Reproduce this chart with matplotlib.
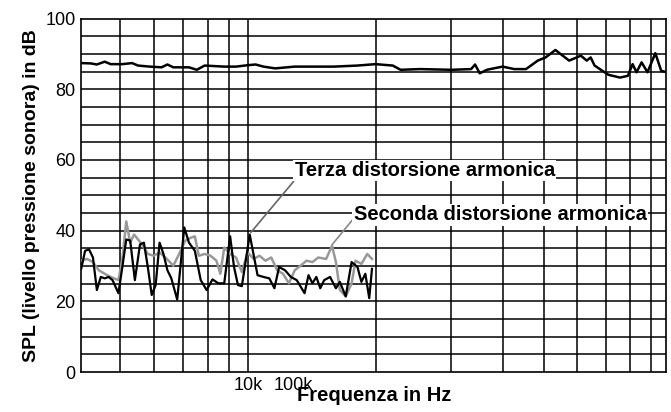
import matplotlib
matplotlib.use("Agg")
import matplotlib.pyplot as plt

plt.rcParams["font.family"] = ["Liberation Sans", "DejaVu Sans"]

# x positions are in a linear "chart units" scale (grid of the original print)
grid_x = [155, 242, 315, 378, 432, 480, 806, 998, 1132, 1236, 1320, 1393, 1456, 1510]

spl_x = [55, 80, 95, 115, 130, 160, 185, 200, 230, 260, 275, 290, 330, 350, 370, 420, 450,
         480, 500, 520, 550, 600, 700, 760, 806, 850, 870, 920, 1000, 1050, 1060, 1072, 1090,
         1130, 1160, 1190, 1220, 1240, 1265, 1300, 1330, 1345, 1355, 1365, 1400, 1430, 1450,
         1462, 1472, 1485, 1500, 1520, 1535, 1550, 1560]
spl_y = [87.4, 87.3, 87.0, 87.8, 87.1, 87.1, 87.4, 86.7, 86.4, 86.2, 87.0, 86.2, 86.2, 85.5,
         86.7, 86.4, 86.4, 86.8, 87.0, 86.4, 85.9, 86.4, 86.4, 86.7, 87.1, 86.7, 85.5, 85.7,
         85.5, 85.7, 87.0, 84.5, 85.5, 86.4, 85.7, 85.7, 88.1, 89.0, 91.1, 88.1, 89.5, 88.1,
         89.0, 86.7, 84.1, 83.3, 83.8, 87.1, 84.8, 87.6, 84.8, 90.2, 85.2, 84.8, 82.4]

h3_x = [55, 65, 75, 85, 95, 105, 115, 125, 135, 150, 160, 170, 180, 192, 205, 215, 225, 235,
        245, 255, 265, 275, 285, 300, 318, 330, 345, 360, 375, 390, 405, 420, 435, 445, 455,
        465, 485, 505, 520, 535, 548, 560, 575, 590, 605, 625, 635, 645, 655, 665, 675, 690,
        705, 715, 730, 745, 760, 770, 780, 790, 797]
h3_y = [29.2, 34.3, 34.7, 32.4, 23.2, 26.9, 26.5, 26.9, 26.0, 22.3, 29.7, 37.5, 37.2, 26.0,
        36.1, 36.6, 29.7, 21.8, 24.6, 36.6, 33.4, 28.8, 26.5, 20.5, 40.9, 36.6, 34.3, 26.0,
        23.2, 26.2, 25.1, 25.1, 38.4, 29.7, 24.6, 24.3, 38.9, 27.4, 26.9, 26.5, 23.7, 29.7,
        28.8, 26.9, 26.0, 22.3, 27.4, 25.1, 26.9, 23.7, 26.0, 26.9, 23.7, 25.5, 21.4, 31.1,
        29.7, 25.5, 27.8, 20.9, 29.2]

h2_x = [55, 70, 85, 100, 115, 130, 150, 160, 170, 180, 190, 200, 210, 225, 240, 255, 270,
        290, 305, 320, 335, 345, 355, 370, 385, 400, 410, 420, 435, 450, 465, 480, 495, 510,
        525, 540, 555, 570, 585, 600, 615, 630, 645, 660, 680, 695, 705, 715, 730, 745, 755,
        770, 785, 797]
h2_y = [31.5, 32.0, 31.1, 28.8, 27.8, 26.9, 26.0, 32.0, 42.6, 36.6, 38.9, 37.5, 36.1, 33.4,
        32.9, 33.8, 32.4, 30.1, 33.4, 37.1, 38.0, 38.4, 32.9, 33.4, 32.9, 31.5, 27.8, 35.2,
        33.4, 32.4, 28.3, 33.8, 32.0, 32.9, 31.5, 32.4, 28.8, 27.8, 25.1, 28.8, 30.1, 31.5,
        31.1, 32.4, 32.0, 35.7, 31.1, 23.2, 21.4, 25.1, 31.5, 30.6, 33.4, 32.0]

fig = plt.figure(figsize=(6.71, 4.12), dpi=100)
ax = fig.add_axes([0.121, 0.097, 0.872, 0.858])
ax.set_xlim(55, 1548)
ax.set_ylim(0, 100)

for gx in grid_x:
    ax.axvline(gx, color="black", lw=1.1, zorder=1)
for gy in range(5, 100, 5):
    ax.axhline(gy, color="black", lw=1.1, zorder=1)
for s in ax.spines.values():
    s.set_linewidth(1.2)

ax.plot(spl_x, spl_y, color="black", lw=1.8, zorder=3)
ax.plot(h2_x, h2_y, color="#999999", lw=1.8, zorder=3)
ax.plot(h3_x, h3_y, color="black", lw=1.6, zorder=4)

ax.set_yticks([0, 20, 40, 60, 80, 100])
ax.tick_params(axis="y", length=0, labelsize=13, pad=4)
ax.set_xticks([])
ax.text(480, -1.5, "10k", ha="center", va="top", fontsize=13)
ax.text(595, -1.5, "100k", ha="center", va="top", fontsize=13)
ax.set_xlabel("Frequenza in Hz", fontsize=14.5, fontweight="bold", labelpad=10)
ax.set_ylabel("SPL (livello pressione sonora) in dB", fontsize=14, fontweight="bold")

box = dict(facecolor="white", edgecolor="none", pad=1)
ax.annotate("Terza distorsione armonica", xy=(488, 39.5), xytext=(600, 57),
            fontsize=14.5, fontweight="bold", ha="left", va="center", bbox=box, zorder=6,
            arrowprops=dict(arrowstyle="-", color="#666666", lw=1.2, shrinkA=0, shrinkB=0,
                            relpos=(0, 0)))
ax.annotate("Seconda distorsione armonica", xy=(695, 36), xytext=(750, 44.5),
            fontsize=14.5, fontweight="bold", ha="left", va="center", bbox=box, zorder=6,
            arrowprops=dict(arrowstyle="-", color="#888888", lw=1.2, shrinkA=0, shrinkB=0,
                            relpos=(0, 0.3)))

fig.savefig("out.png", dpi=100)
